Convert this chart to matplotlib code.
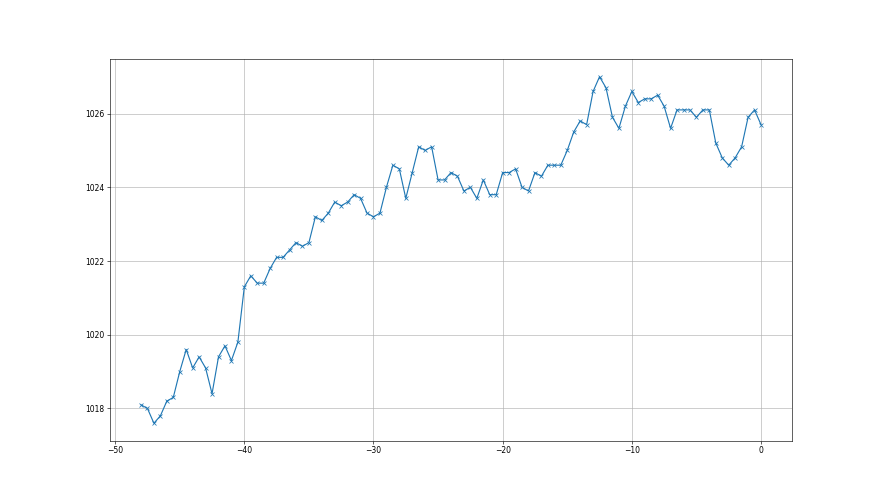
"""Pressure trace over the last 48 hours."""

import matplotlib

matplotlib.use("Agg")
import matplotlib.pyplot as plt
import numpy as np

# hours relative to now, half-hour steps
hours = np.arange(-48.0, 0.25, 0.5)

pressure = [
    1018.1, 1018.0, 1017.6, 1017.8, 1018.2, 1018.3, 1019.0, 1019.6, 1019.1, 1019.4,
    1019.1, 1018.4, 1019.4, 1019.7, 1019.3, 1019.8, 1021.3, 1021.6, 1021.4, 1021.4,
    1021.8, 1022.1, 1022.1, 1022.3, 1022.5, 1022.4, 1022.5, 1023.2, 1023.1, 1023.3,
    1023.6, 1023.5, 1023.6, 1023.8, 1023.7, 1023.3, 1023.2, 1023.3, 1024.0, 1024.6,
    1024.5, 1023.7, 1024.4, 1025.1, 1025.0, 1025.1, 1024.2, 1024.2, 1024.4, 1024.3,
    1023.9, 1024.0, 1023.7, 1024.2, 1023.8, 1023.8, 1024.4, 1024.4, 1024.5, 1024.0,
    1023.9, 1024.4, 1024.3, 1024.6, 1024.6, 1024.6, 1025.0, 1025.5, 1025.8, 1025.7,
    1026.6, 1027.0, 1026.7, 1025.9, 1025.6, 1026.2, 1026.6, 1026.3, 1026.4, 1026.4,
    1026.5, 1026.2, 1025.6, 1026.1, 1026.1, 1026.1, 1025.9, 1026.1, 1026.1, 1025.2,
    1024.8, 1024.6, 1024.8, 1025.1, 1025.9, 1026.1, 1025.7,
]

fig, ax = plt.subplots(figsize=(16, 9), dpi=55)
ax.plot(hours, pressure, marker="x")
ax.grid(True)
fig.savefig("out.png", dpi=55, facecolor="white")
